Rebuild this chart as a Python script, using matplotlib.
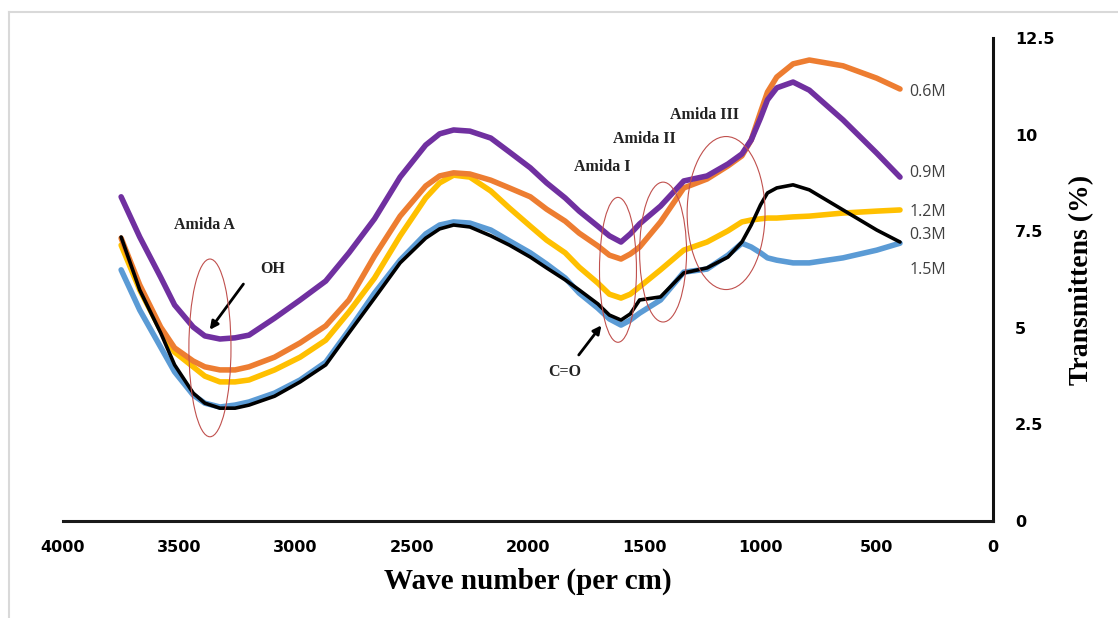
import matplotlib
matplotlib.use("Agg")
import matplotlib.pyplot as plt
from matplotlib.patches import Ellipse
from matplotlib.lines import Line2D

# ---- data ----
wavenumber = [3750, 3670, 3580, 3520, 3440, 3390, 3325, 3260, 3200, 3090,
              2980, 2870, 2770, 2660, 2550, 2440, 2380, 2320, 2250, 2160,
              2080, 1990, 1920, 1840, 1780, 1700, 1650, 1600, 1560, 1520,
              1430, 1330, 1230, 1140, 1080, 1040, 1000, 970, 930, 860,
              790, 645, 500, 400]

t_03M = [7.35, 5.98, 4.87, 4.04, 3.31, 3.05, 2.92, 2.92, 3.00, 3.23,
         3.60, 4.04, 4.87, 5.77, 6.68, 7.32, 7.56, 7.66, 7.61, 7.38,
         7.14, 6.83, 6.55, 6.24, 5.98, 5.62, 5.33, 5.20, 5.36, 5.72,
         5.80, 6.42, 6.55, 6.83, 7.22, 7.66, 8.18, 8.49, 8.62, 8.70,
         8.57, 8.05, 7.53, 7.22]
t_06M = [7.32, 6.11, 5.02, 4.48, 4.14, 3.99, 3.91, 3.91, 3.99, 4.24,
         4.61, 5.05, 5.72, 6.86, 7.89, 8.67, 8.93, 9.01, 8.98, 8.82,
         8.62, 8.39, 8.07, 7.76, 7.45, 7.12, 6.88, 6.78, 6.91, 7.09,
         7.74, 8.62, 8.85, 9.19, 9.45, 9.86, 10.58, 11.10, 11.49, 11.83,
         11.93, 11.78, 11.46, 11.18]
t_09M = [8.39, 7.35, 6.31, 5.59, 5.02, 4.79, 4.71, 4.74, 4.81, 5.25,
         5.72, 6.21, 6.94, 7.82, 8.90, 9.73, 10.02, 10.12, 10.09, 9.91,
         9.55, 9.14, 8.75, 8.36, 8.02, 7.63, 7.38, 7.22, 7.43, 7.69,
         8.15, 8.80, 8.93, 9.24, 9.50, 9.86, 10.43, 10.90, 11.21, 11.36,
         11.15, 10.38, 9.52, 8.90]
t_12M = [7.14, 5.98, 4.94, 4.37, 3.99, 3.75, 3.60, 3.60, 3.65, 3.91,
         4.24, 4.68, 5.41, 6.29, 7.38, 8.36, 8.75, 8.95, 8.90, 8.54,
         8.10, 7.63, 7.27, 6.94, 6.57, 6.16, 5.87, 5.77, 5.87, 6.06,
         6.50, 7.01, 7.22, 7.51, 7.74, 7.79, 7.82, 7.84, 7.84, 7.87,
         7.89, 7.97, 8.02, 8.05]
t_15M = [6.50, 5.46, 4.50, 3.86, 3.26, 3.05, 2.95, 3.00, 3.08, 3.31,
         3.65, 4.11, 4.94, 5.90, 6.75, 7.43, 7.66, 7.74, 7.71, 7.53,
         7.25, 6.94, 6.65, 6.29, 5.90, 5.51, 5.23, 5.07, 5.20, 5.38,
         5.72, 6.44, 6.52, 6.88, 7.19, 7.09, 6.94, 6.81, 6.75, 6.68,
         6.68, 6.81, 7.01, 7.19]

series_names = ["0.3M", "0.6M", "0.9M", "1.2M", "1.5M"]
label_y = [7.4, 11.1, 9.0, 8.0, 6.5]

x_ticks = [4000, 3500, 3000, 2500, 2000, 1500, 1000, 500, 0]
y_ticks = [0, 2.5, 5, 7.5, 10, 12.5]
y_tick_labels = ["0", "2.5", "5", "7.5", "10", "12.5"]

# ---- figure ----
fig = plt.figure(figsize=(11.18, 6.18), dpi=100)
ax = fig.add_axes([63/1118, 97/618, 930/1118, 483/618])

styles = {
    "1.2M": dict(color="#FFC000", lw=4.0, zorder=3),
    "0.6M": dict(color="#ED7D31", lw=4.0, zorder=4),
    "0.9M": dict(color="#7030A0", lw=4.0, zorder=5),
    "1.5M": dict(color="#5B9BD5", lw=4.0, zorder=6),
    "0.3M": dict(color="#000000", lw=2.6, zorder=7),
}
data = {"0.3M": t_03M, "0.6M": t_06M, "0.9M": t_09M, "1.2M": t_12M, "1.5M": t_15M}
for name in ["1.2M", "0.6M", "0.9M", "1.5M", "0.3M"]:
    st = styles[name]
    ax.plot(wavenumber, data[name], color=st["color"], lw=st["lw"],
            zorder=st["zorder"], solid_capstyle="round", solid_joinstyle="round")

for name, ly in zip(series_names, label_y):
    ax.text(360, ly, name, fontsize=11.5, color="#404040", family="Open Sans",
            va="center", ha="left")

ax.set_xlim(4000, 0)
ax.set_ylim(0, 12.5)

for s in ["left", "top"]:
    ax.spines[s].set_visible(False)
ax.spines["right"].set_linewidth(2.2)
ax.spines["bottom"].set_linewidth(2.2)
ax.spines["bottom"].set_color("#1a1a1a")
ax.spines["right"].set_color("#111111")

ax.set_xticks(x_ticks)
ax.set_xticklabels([str(v) for v in x_ticks])
ax.set_yticks(y_ticks)
ax.set_yticklabels(y_tick_labels)
ax.yaxis.tick_right()
ax.tick_params(axis="both", length=0)
ax.tick_params(axis="x", pad=14)
ax.tick_params(axis="y", pad=16)
for lab in ax.get_xticklabels() + ax.get_yticklabels():
    lab.set_fontweight("bold")
    lab.set_fontsize(11.5)
    lab.set_family("DejaVu Sans")

ax.set_xlabel("Wave number (per cm)", family="Liberation Serif",
              fontweight="bold", fontsize=21, labelpad=9)
ax.yaxis.set_label_position("right")
ax.set_ylabel("Transmittens (%)", family="Liberation Serif",
              fontweight="bold", fontsize=20, labelpad=10)

# annotations
ann_font = dict(family="Liberation Serif", fontweight="bold", fontsize=11.5, color="#222222")
ax.text(3390, 7.67, "Amida A", ha="center", va="center", **ann_font)
ax.text(3100, 6.53, "OH", ha="center", va="center", **ann_font)
ax.text(1680, 9.16, "Amida I", ha="center", va="center", **ann_font)
ax.text(1500, 9.89, "Amida II", ha="center", va="center", **ann_font)
ax.text(1240, 10.5, "Amida III", ha="center", va="center", **ann_font)
ax.text(1840, 3.85, "C=O", ha="center", va="center", **ann_font)

ax.annotate("", xy=(3376, 4.89), xytext=(3217, 6.19),
            arrowprops=dict(arrowstyle="-|>", color="black", lw=2, mutation_scale=12),
            zorder=10)
ax.annotate("", xy=(1677, 5.12), xytext=(1789, 4.24),
            arrowprops=dict(arrowstyle="-|>", color="black", lw=2, mutation_scale=12),
            zorder=10)

ell_col = "#C0504D"
for cx, cy, w, h in [(3368, 4.48, 181, 4.6), (1613, 6.50, 159, 3.75),
                     (1419, 6.96, 202, 3.62), (1148, 7.97, 335, 3.96)]:
    ax.add_patch(Ellipse((cx, cy), w, h, fill=False, edgecolor=ell_col,
                         lw=0.8, zorder=11))

# chart area border (light gray, top and left)
fig.add_artist(Line2D([9/1118, 1.0], [1 - 12/618, 1 - 12/618],
                      transform=fig.transFigure, color="#d9d9d9", lw=1.5))
fig.add_artist(Line2D([9/1118, 9/1118], [0, 1 - 12/618],
                      transform=fig.transFigure, color="#d9d9d9", lw=1.5))

fig.savefig("out.png", dpi=100)
